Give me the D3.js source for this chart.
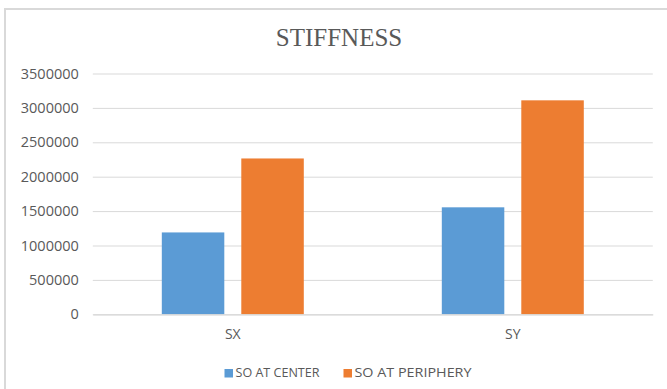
<!DOCTYPE html>
<html>
<head>
<meta charset="utf-8">
<script src="https://cdn.jsdelivr.net/npm/d3@7/dist/d3.min.js"></script>
<style>
  html, body { margin: 0; padding: 0; background: #fff; }
  svg { display: block; }
</style>
</head>
<body>
<svg id="chart" width="667" height="389"></svg>
<script>
// Stiffness values per direction for the two SO placements
const categories = ["SX", "SY"];
const seriesNames = ["SO AT CENTER", "SO AT PERIPHERY"];
const soAtCenter = [1190000, 1555000];
const soAtPeriphery = [2265000, 3110000];
const yTicks = [0, 500000, 1000000, 1500000, 2000000, 2500000, 3000000, 3500000];
const colors = ["#5B9BD5", "#ED7D31"];
const title = "STIFFNESS";

const svg = d3.select("#chart");
const W = 667, H = 389;
const plot = { left: 92.8, right: 652.8, top: 73.5, bottom: 314.3 };
const textColor = "#595959";
const gridColor = "#d9d9d9";
const sans = "'Open Sans', 'Noto Sans', sans-serif";

// outer chart frame
svg.append("rect")
  .attr("x", 5).attr("y", 9)
  .attr("width", W + 10).attr("height", H + 10)
  .attr("fill", "#fff")
  .attr("stroke", "#d9d9d9").attr("stroke-width", 2);

// title
svg.append("text")
  .attr("x", 339).attr("y", 45.5)
  .attr("text-anchor", "middle")
  .attr("font-family", "'Liberation Serif', 'Times New Roman', serif")
  .attr("font-size", 25)
  .attr("fill", textColor)
  .text(title);

const x0 = d3.scaleBand().domain(categories).range([plot.left, plot.right]).padding(0);
const y = d3.scaleLinear().domain([0, 3500000]).range([plot.bottom, plot.top]);

// gridlines via the y axis
const yAxis = d3.axisLeft(y).tickValues(yTicks).tickSize(-(plot.right - plot.left)).tickPadding(14).tickFormat(d3.format("d"));
const gy = svg.append("g").attr("transform", `translate(${plot.left},0)`).call(yAxis);
gy.select(".domain").remove();
gy.selectAll(".tick line").attr("stroke", gridColor).attr("stroke-width", 1);
gy.selectAll(".tick text")
  .attr("font-family", sans)
  .attr("font-size", 14.5)
  .attr("fill", textColor);

// bars: width and offsets derived from the band step
const step = x0.bandwidth();
const barW = step * 0.2232;
const gap = step * 0.0607;
const series = [soAtCenter, soAtPeriphery];
series.forEach((vals, si) => {
  svg.append("g").selectAll("rect")
    .data(categories.map((c, i) => ({ c, v: vals[i] })))
    .join("rect")
    .attr("x", d => x0(d.c) + step / 2 + (si === 0 ? -(gap / 2) - barW : gap / 2))
    .attr("y", d => y(d.v))
    .attr("width", barW)
    .attr("height", d => y(0) - y(d.v))
    .attr("fill", colors[si]);
});

// category axis
const xAxis = d3.axisBottom(x0).tickSize(0).tickPadding(15);
const gx = svg.append("g").attr("transform", `translate(0,${plot.bottom})`).call(xAxis);
gx.select(".domain").attr("stroke", gridColor).attr("stroke-width", 1.2);
gx.selectAll(".tick text")
  .attr("font-family", sans)
  .attr("font-size", 14)
  .attr("fill", textColor);

// legend
const legendX = [224.5, 343.5];
const legendTextW = [84, 117];
const lg = svg.append("g");
seriesNames.forEach((name, i) => {
  lg.append("rect")
    .attr("x", legendX[i]).attr("y", 369)
    .attr("width", 8.5).attr("height", 8.5)
    .attr("fill", colors[i]);
  lg.append("text")
    .attr("x", legendX[i] + 11).attr("y", 377)
    .attr("font-family", sans)
    .attr("font-size", 13)
    .attr("textLength", legendTextW[i])
    .attr("lengthAdjust", "spacingAndGlyphs")
    .attr("fill", textColor)
    .text(name);
});
</script>
</body>
</html>
